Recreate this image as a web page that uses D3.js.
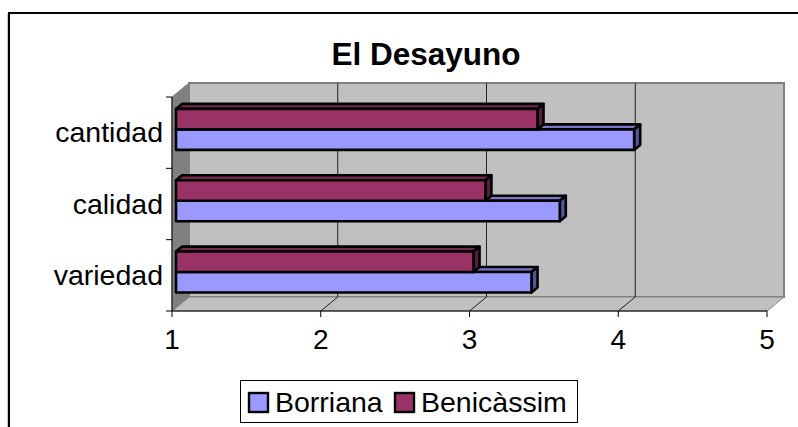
<!DOCTYPE html>
<html lang="es">
<head>
  <meta charset="UTF-8">
  <title>El Desayuno</title>
  <style>
    body { margin: 0; background: #fff; }
    svg { display: block; font-family: "Liberation Sans", Arial, sans-serif; }
  </style>
</head>
<body>
  <svg id="chart" width="798" height="427"></svg>
  <script src="https://d3js.org/d3.v7.min.js"></script>
  <script>
    // --- data ---
    const categories = ["cantidad", "calidad", "variedad"];
    const seriesNames = ["Borriana", "Benicàssim"];
    const borriana = [4.08, 3.58, 3.39];
    const benicassim = [3.43, 3.08, 3.0];
    const xTicks = [1, 2, 3, 4, 5];

    const colors = {
      "Borriana":   { front: "#9999ff", top: "#7777cc", side: "#555599" },
      "Benicàssim": { front: "#993366", top: "#772850", side: "#5a1e3c" }
    };

    const svg = d3.select("#chart");

    // 3D depth of the plot box
    const DX = 17, DY = -14;
    const zFront = 0.235, zBack = 0.59;   // bar depth, as share of box depth

    const x = d3.scaleLinear().domain([1, 5]).range([172, 767]);
    const y = d3.scaleBand().domain(categories).range([97, 311]);
    const inner = d3.scaleBand().domain(["Benicàssim", "Borriana"])
      .range([0, y.bandwidth()]).paddingInner(0).paddingOuter(0.74);

    const x0 = x.range()[0], x1 = x.range()[1];
    const yTop = y.range()[0], yBot = y.range()[1];

    // outer frame
    svg.append("line").attr("x1", 7.5).attr("x2", 7.5).attr("y1", 14).attr("y2", 427)
      .attr("stroke", "#c8c8c8").attr("stroke-width", 1);
    svg.append("rect").attr("x", 9).attr("y", 13).attr("width", 800).attr("height", 430)
      .attr("fill", "none").attr("stroke", "#000").attr("stroke-width", 2);

    // title
    svg.append("text").attr("x", 426).attr("y", 65).attr("text-anchor", "middle")
      .attr("font-size", 31.5).attr("font-weight", "bold").text("El Desayuno");

    const pts = a => a.map(p => p.join(",")).join(" ");

    // walls
    svg.append("polygon")
      .attr("points", pts([[x0 + DX, yTop + DY], [x1 + DX, yTop + DY], [x1 + DX, yBot + DY], [x0 + DX, yBot + DY]]))
      .attr("fill", "#c0c0c0").attr("stroke", "#808080").attr("stroke-width", 2);
    svg.append("polygon")
      .attr("points", pts([[x0, yBot], [x1, yBot], [x1 + DX, yBot + DY], [x0 + DX, yBot + DY]]))
      .attr("fill", "#c0c0c0").attr("stroke", "#808080").attr("stroke-width", 1);
    svg.append("polygon")
      .attr("points", pts([[x0, yTop], [x0 + DX, yTop + DY], [x0 + DX, yBot + DY], [x0, yBot]]))
      .attr("fill", "#808080").attr("stroke", "#808080").attr("stroke-width", 1);

    // gridlines
    const grid = xTicks.slice(1, -1);
    svg.selectAll(".grid").data(grid).join("line")
      .attr("x1", d => x(d) + DX).attr("x2", d => x(d) + DX)
      .attr("y1", yTop + DY).attr("y2", yBot + DY)
      .attr("stroke", "#222").attr("stroke-width", 1);
    svg.selectAll(".floorgrid").data(grid).join("line")
      .attr("x1", d => x(d)).attr("x2", d => x(d) + DX)
      .attr("y1", yBot).attr("y2", yBot + DY)
      .attr("stroke", "#222").attr("stroke-width", 1);

    // bars
    const rows = [];
    categories.forEach((c, i) => {
      rows.push({ cat: c, s: "Borriana", v: borriana[i] });
      rows.push({ cat: c, s: "Benicàssim", v: benicassim[i] });
    });
    const fdx = zFront * DX, fdy = zFront * DY;
    const ddx = (zBack - zFront) * DX, ddy = (zBack - zFront) * DY;

    const bars = svg.selectAll(".bar").data(rows).join("g");
    bars.each(function(d) {
      const g = d3.select(this);
      const xa = x(1) + fdx, xb = x(d.v) + fdx;
      const ya = y(d.cat) + inner(d.s) + fdy, yb = ya + inner.bandwidth();
      const col = colors[d.s];
      g.append("polygon")
        .attr("points", pts([[xa, ya], [xb, ya], [xb + ddx, ya + ddy], [xa + ddx, ya + ddy]]))
        .attr("fill", col.top);
      g.append("polygon")
        .attr("points", pts([[xb, ya], [xb + ddx, ya + ddy], [xb + ddx, yb + ddy], [xb, yb]]))
        .attr("fill", col.side);
      g.append("rect").attr("x", xa).attr("y", ya).attr("width", xb - xa).attr("height", yb - ya)
        .attr("fill", col.front);
      g.selectAll("polygon, rect").attr("stroke", "#000").attr("stroke-width", 2.6)
        .attr("stroke-linejoin", "round");
    });

    // axes
    svg.append("line").attr("x1", x0).attr("x2", x0).attr("y1", yTop).attr("y2", yBot)
      .attr("stroke", "#000");
    svg.append("line").attr("x1", x0).attr("x2", x1).attr("y1", yBot).attr("y2", yBot)
      .attr("stroke", "#000");
    const bounds = categories.map(c => y(c)).concat([yBot]);
    svg.selectAll(".ytick").data(bounds).join("line")
      .attr("x1", x0 - 6).attr("x2", x0).attr("y1", d => d).attr("y2", d => d)
      .attr("stroke", "#000");
    svg.selectAll(".xtick").data(xTicks).join("line")
      .attr("x1", d => x(d)).attr("x2", d => x(d)).attr("y1", yBot).attr("y2", yBot + 6)
      .attr("stroke", "#000");
    svg.selectAll(".xlabel").data(xTicks).join("text")
      .attr("x", d => x(d)).attr("y", 349).attr("text-anchor", "middle")
      .attr("font-size", 28).text(d => d);
    svg.selectAll(".ylabel").data(categories).join("text")
      .attr("x", 163).attr("y", d => y(d) + y.bandwidth() / 2).attr("dy", "0.34em")
      .attr("text-anchor", "end").attr("font-size", 28.5).text(d => d);

    // legend
    const legend = svg.append("g");
    legend.append("rect").attr("x", 240.5).attr("y", 380.5).attr("width", 337).attr("height", 42)
      .attr("fill", "#fff").attr("stroke", "#000").attr("stroke-width", 1);
    const legendX = [249, 395];
    seriesNames.forEach((s, i) => {
      legend.append("rect").attr("x", legendX[i]).attr("y", 393).attr("width", 19).attr("height", 19)
        .attr("fill", colors[s].front).attr("stroke", "#000").attr("stroke-width", 2.4);
      legend.append("text").attr("x", legendX[i] + 26).attr("y", 412)
        .attr("font-size", 28.5).text(s);
    });
  </script>
</body>
</html>
